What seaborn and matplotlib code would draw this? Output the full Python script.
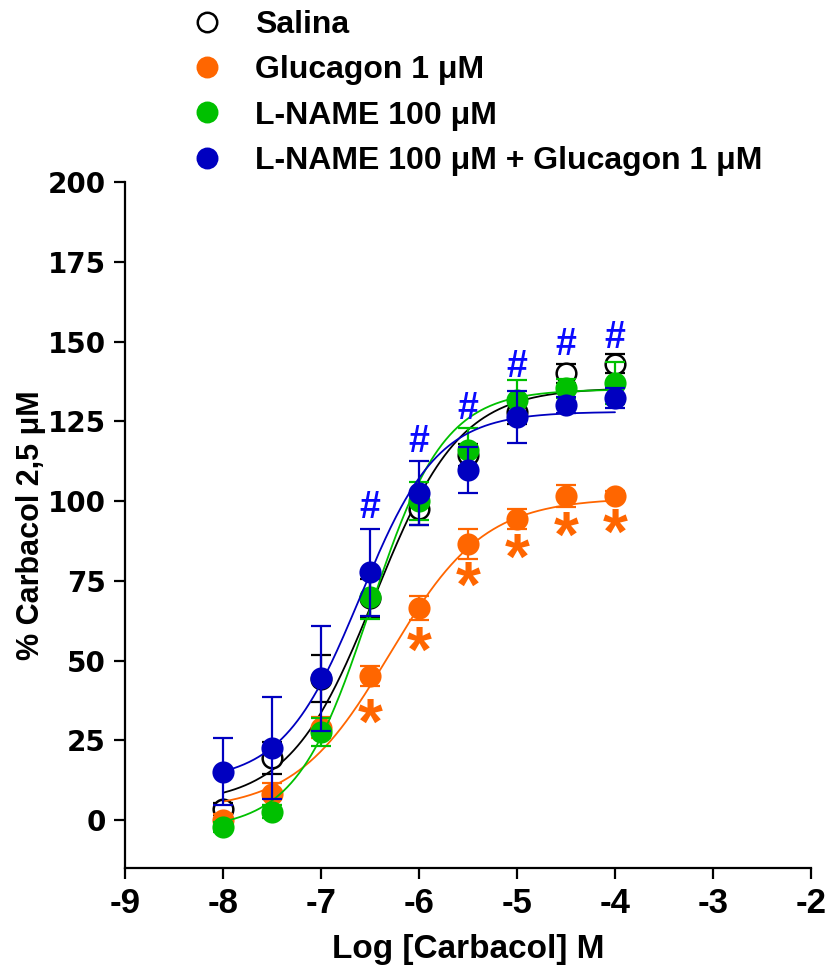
import numpy as np
import pandas as pd
import seaborn as sns
import matplotlib.pyplot as plt
from matplotlib.lines import Line2D

# log concentrations of carbacol
log_conc = [-8, -7.5, -7, -6.5, -6, -5.5, -5, -4.5, -4]

salina_mean = [3.5, 19.4, 44.3, 69.5, 97.5, 114.5, 128.0, 140.0, 143.0]
salina_sem = [2.0, 5.0, 7.3, 6.0, 5.0, 3.5, 4.0, 3.0, 3.0]
glucagon_mean = [0.0, 8.2, 29.0, 45.2, 66.4, 86.5, 94.4, 101.6, 101.6]
glucagon_sem = [2.0, 3.3, 3.4, 3.2, 3.7, 4.8, 3.0, 3.5, 1.5]
lname_mean = [-2.1, 2.6, 27.6, 70.0, 100.0, 116.0, 131.7, 135.4, 137.0]
lname_sem = [1.5, 2.0, 4.4, 7.0, 6.0, 7.0, 6.3, 3.0, 6.5]
combo_mean = [15.1, 22.5, 44.5, 77.7, 102.5, 109.7, 126.4, 130.0, 132.3]
combo_sem = [10.5, 16.0, 16.5, 13.7, 10.0, 7.2, 8.2, 2.5, 3.0]

# sigmoid fit parameters: bottom, top, logEC50, hill slope
salina_fit = (5.0, 135.5, -6.45, 1.0)
glucagon_fit = (3.0, 101.0, -6.3, 0.9)
lname_fit = (-3.0, 135.0, -6.5, 1.15)
combo_fit = (12.0, 128.0, -6.6, 1.1)

# significance marks
hash_x = [-6.5, -6, -5.5, -5, -4.5, -4]
hash_y = [97.8, 118.5, 129.0, 142.0, 149.0, 151.0]
star_x = [-6.5, -6, -5.5, -5, -4.5, -4]
star_y = [33.9, 56.4, 76.8, 85.6, 92.5, 93.4]

labels = ['Salina', 'Glucagon 1 μM', 'L-NAME 100 μM', 'L-NAME 100 μM + Glucagon 1 μM']
colors = ['black', '#FF6600', '#00C000', '#0000C0']

series = [
    (salina_mean, salina_sem, salina_fit),
    (glucagon_mean, glucagon_sem, glucagon_fit),
    (lname_mean, lname_sem, lname_fit),
    (combo_mean, combo_sem, combo_fit),
]

sns.set_style('ticks')
plt.rcParams['font.family'] = ['Liberation Sans', 'DejaVu Sans']
plt.rcParams['font.weight'] = 'bold'
for k in ['text.color', 'axes.labelcolor', 'xtick.color', 'ytick.color', 'axes.edgecolor']:
    plt.rcParams[k] = 'black'

fig = plt.figure(figsize=(8.31, 9.67), dpi=100)
ax = fig.add_axes([125 / 831, 1 - 868 / 967, 686 / 831, 686 / 967])

xs = np.linspace(-8, -4, 300)
for i, ((m, s, fit), lab, col) in enumerate(zip(series, labels, colors)):
    b, t, ec, h = fit
    curve = pd.DataFrame({'x': xs, 'y': b + (t - b) / (1 + 10 ** ((ec - xs) * h))})
    sns.lineplot(data=curve, x='x', y='y', color=col, lw=1.3, ax=ax, zorder=2 + i * 3)
    ax.errorbar(log_conc, m, yerr=s, fmt='none', ecolor=col, elinewidth=1.6,
                capsize=7.5, capthick=1.6, zorder=3 + i * 3)
    pts = pd.DataFrame({'x': log_conc, 'y': m})
    face = 'white' if i == 0 else col
    sns.scatterplot(data=pts, x='x', y='y', ax=ax, s=200, color=face,
                    edgecolor=col, linewidth=1.8, zorder=4 + i * 3)

for x, y in zip(hash_x, hash_y):
    ax.text(x, y, '#', color='#0A0AFF', fontsize=27, fontweight='bold',
            ha='center', va='center', zorder=20)
for x, y in zip(star_x, star_y):
    # the asterisk glyph sits high in its box, so anchor it lower
    ax.annotate('*', (x, y), xytext=(0, -23), textcoords='offset points',
                color='#FF6600', fontsize=46, fontweight='bold',
                ha='center', va='baseline', zorder=20)

ax.set_xlim(-9, -2)
ax.set_ylim(-15, 200)
ax.set_xticks(range(-9, -1))
ax.set_yticks(range(0, 201, 25))
ax.set_xticklabels([str(v) for v in range(-9, -1)], fontsize=25, fontweight='bold')
ax.set_yticklabels([str(v) for v in range(0, 201, 25)], family='DejaVu Sans',
                   fontsize=20, fontweight='bold')
ax.set_xlabel('Log [Carbacol] M', fontsize=24, fontweight='bold', labelpad=10)
ax.set_ylabel('% Carbacol 2,5 μM', fontsize=22, fontweight='bold', labelpad=1)
sns.despine(ax=ax)
for sp in ['left', 'bottom']:
    ax.spines[sp].set_linewidth(1.6)
ax.tick_params(width=1.6, length=8, direction='out', pad=6)

handles = []
for i, col in enumerate(colors):
    face = 'white' if i == 0 else col
    handles.append(Line2D([], [], ls='none', marker='o', markersize=14,
                          markerfacecolor=face, markeredgecolor=col, markeredgewidth=1.8))
fig.legend(handles, labels, loc='upper left', bbox_to_anchor=(178 / 831, 1 + 6 / 967),
           frameon=False, prop={'weight': 'bold', 'size': 23},
           handlelength=0.8, handletextpad=1.1, labelspacing=0.48, borderpad=0)

plt.savefig('out.png', dpi=100)
